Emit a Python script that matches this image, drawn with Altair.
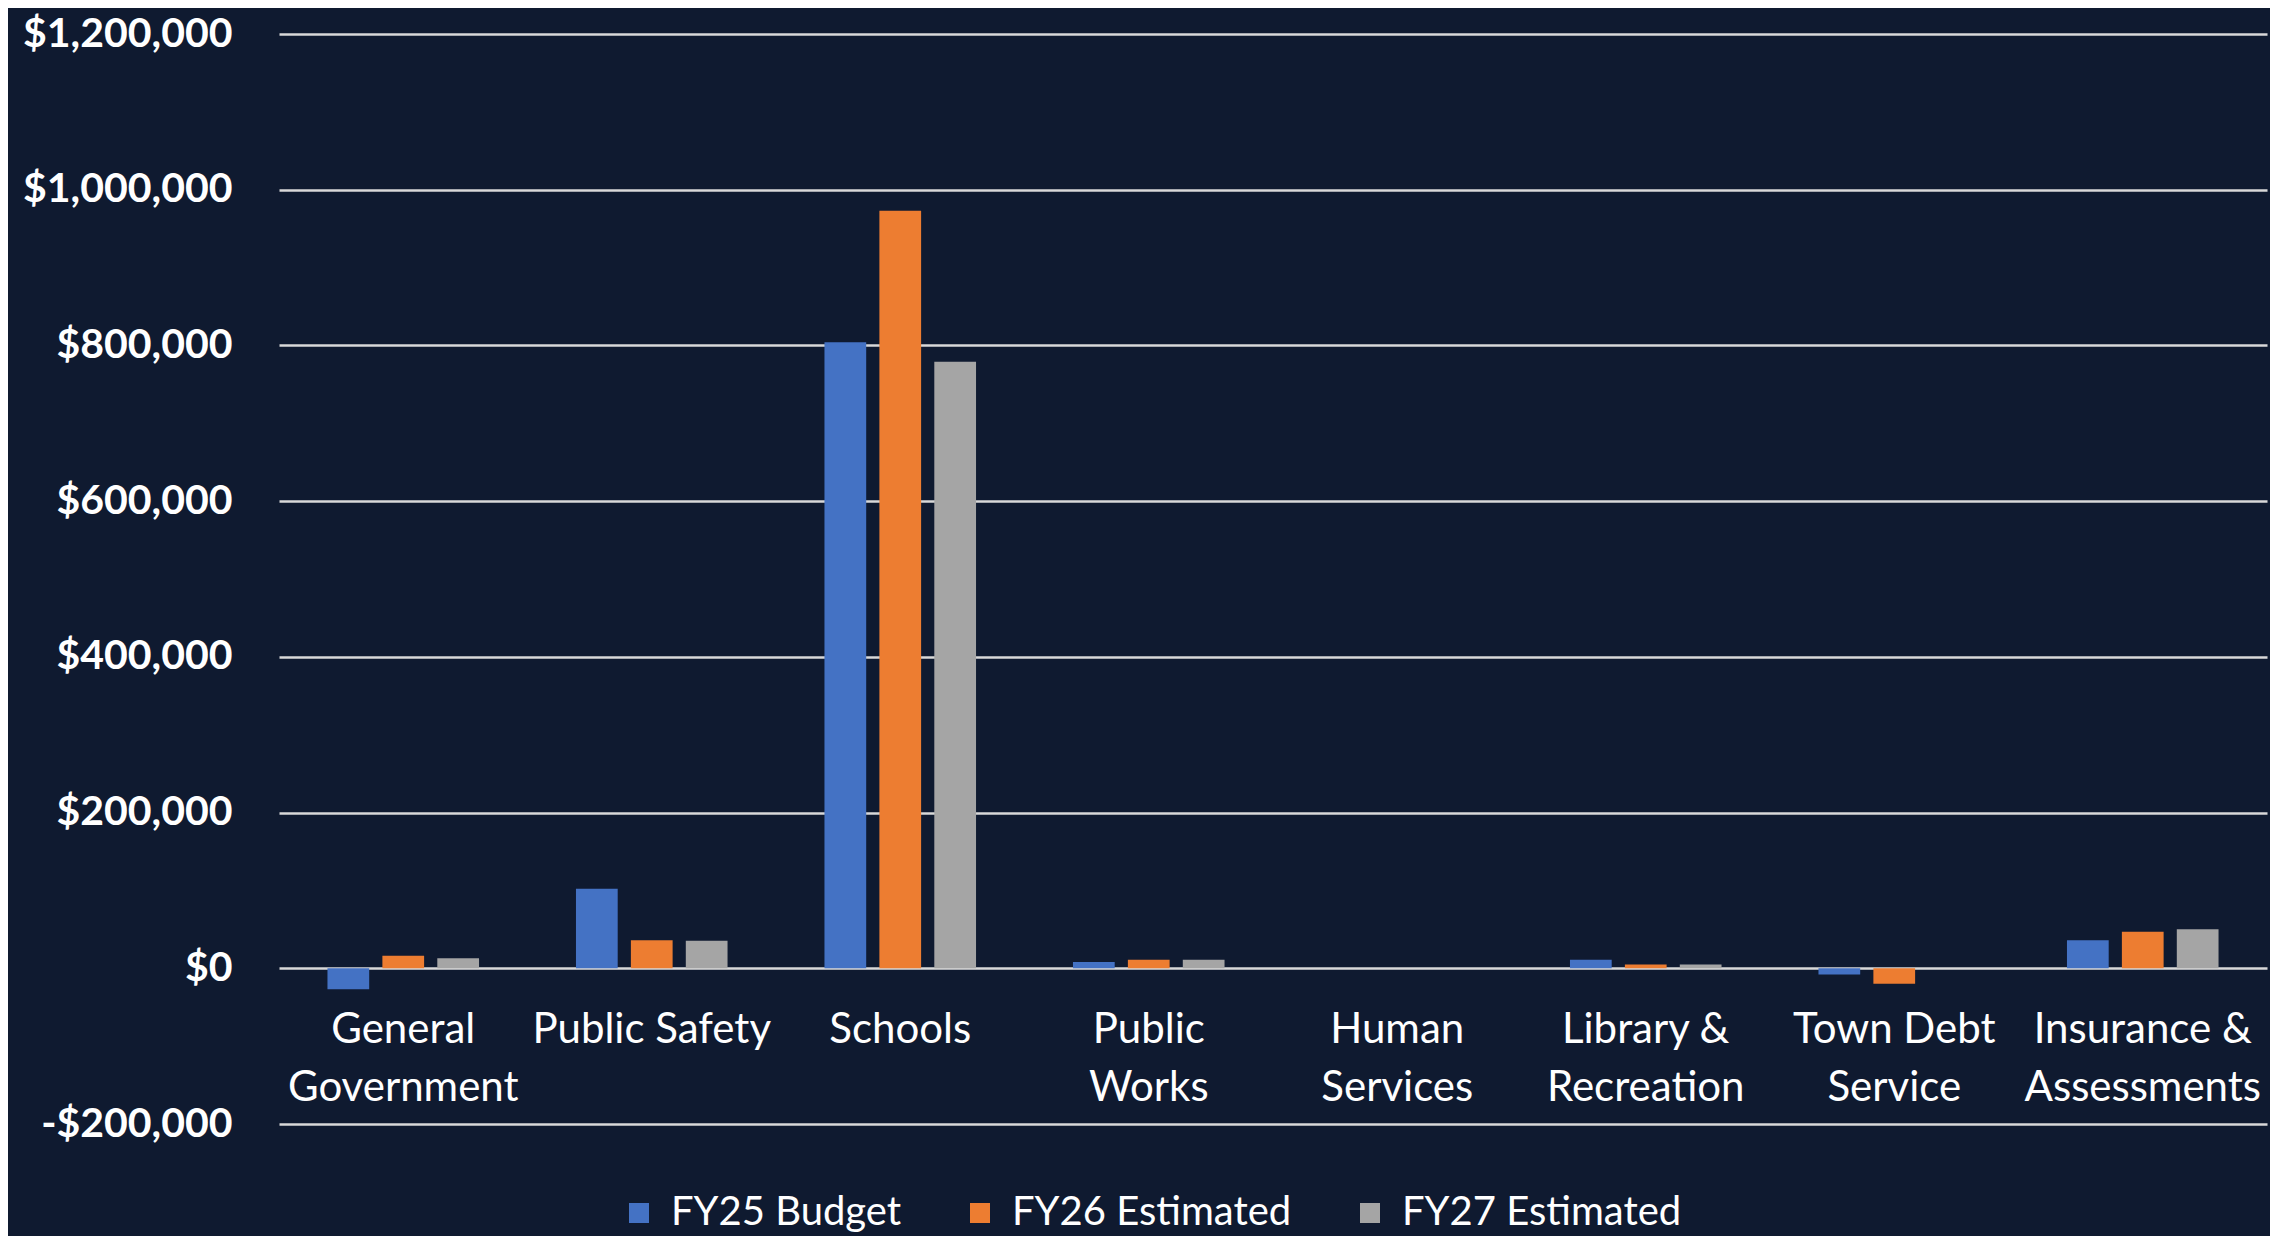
import altair as alt
import pandas as pd

categories = ["General Government", "Public Safety", "Schools", "Public Works",
              "Human Services", "Library & Recreation", "Town Debt Service",
              "Insurance & Assessments"]
label_lines = [["General", "Government"], ["Public Safety"], ["Schools"], ["Public", "Works"],
               ["Human", "Services"], ["Library &", "Recreation"], ["Town Debt", "Service"],
               ["Insurance &", "Assessments"]]
series = ["FY25 Budget", "FY26 Estimated", "FY27 Estimated"]
fy25 = [-27000, 102000, 804000, 8000, 0, 11000, -8000, 36000]
fy26 = [16000, 36000, 973000, 11000, 0, 5000, -20000, 47000]
fy27 = [13000, 35500, 779000, 11000, 0, 5000, 0, 50000]
colors = ["#4472C4", "#ED7D31", "#A5A5A5"]
y_ticks = [-200000, 0, 200000, 400000, 600000, 800000, 1000000, 1200000]

rows = []
for s, vals in zip(series, [fy25, fy26, fy27]):
    for c, v in zip(categories, vals):
        rows.append({"category": c, "series": s, "value": v})
df = pd.DataFrame(rows)

# multi-line label expression
expr = "''"
for c, lines in reversed(list(zip(categories, label_lines))):
    arr = "[" + ",".join("'" + l + "'" for l in lines) + "]"
    expr = f"datum.value == '{c}' ? {arr} : ({expr})"

W, H = 1988, 1090
ymin, ymax = -200000, 1200000
zero_offset = -H * (0 - ymin) / (ymax - ymin)

FONT = "Lato"

chart = alt.Chart(df).mark_bar().encode(
    x=alt.X("category:N", sort=categories,
            scale=alt.Scale(paddingInner=0.337, paddingOuter=0.1685),
            axis=alt.Axis(title=None, labelAngle=0, domain=False, ticks=False,
                          offset=zero_offset, labelPadding=41, labelLineHeight=58,
                          labelFontSize=42, labelColor="white", labelFont=FONT,
                          labelLimit=0, labelExpr=expr)),
    xOffset=alt.XOffset("series:N", sort=series,
                        scale=alt.Scale(paddingInner=0.24, paddingOuter=0.12)),
    y=alt.Y("value:Q", scale=alt.Scale(domain=[ymin, ymax], nice=False),
            axis=alt.Axis(title=None, values=y_ticks, grid=True, gridColor="#D9D9D9",
                          gridWidth=2.5, domain=False, ticks=False, labelPadding=47,
                          labelFontSize=41, labelFontWeight="bold", labelColor="white",
                          labelFont=FONT, labelLimit=0,
                          labelExpr="datum.value < 0 ? '-$' + format(-datum.value, ',') : '$' + format(datum.value, ',')")),
    color=alt.Color("series:N", sort=series,
                    scale=alt.Scale(domain=series, range=colors),
                    legend=alt.Legend(title=None, orient="none", direction="horizontal",
                                      legendX=340, legendY=1159, symbolType="square",
                                      symbolSize=400, symbolStrokeWidth=0,
                                      labelFontSize=40, labelColor="white", labelFont=FONT,
                                      labelLimit=0, columnPadding=58, labelOffset=12)),
).properties(
    width=W, height=H,
    background="#0F1A30",
    padding={"left": 271, "top": 26, "right": 3, "bottom": 112},
    autosize=alt.AutoSizeParams(type="none"),
).configure_view(stroke=None)

chart.save("out.html", embed_options={"renderer": "svg", "actions": False})
